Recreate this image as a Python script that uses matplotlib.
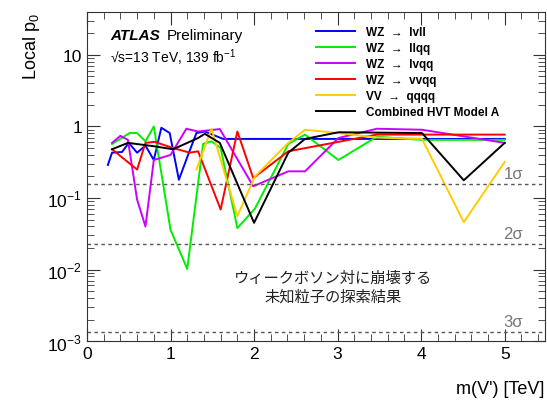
import matplotlib
matplotlib.use("Agg")
import matplotlib.pyplot as plt
from matplotlib.ticker import MultipleLocator, LogLocator, NullFormatter, FuncFormatter
import numpy as np

# ---- data ----
lvll_m = [0.25, 0.30, 0.42, 0.50, 0.60, 0.70, 0.80, 0.89, 0.99, 1.10, 1.21, 1.31, 1.41, 1.63, 2.0, 3.0, 4.0, 5.0]
lvll_p = [0.29, 0.43, 0.44, 0.59, 0.43, 0.54, 0.34, 0.96, 0.81, 0.18, 0.40, 0.81, 0.85, 0.67, 0.67, 0.67, 0.67, 0.67]

llqq_m = [0.30, 0.51, 0.60, 0.70, 0.80, 1.00, 1.20, 1.39, 1.49, 1.60, 1.80, 2.01, 2.41, 2.61, 3.01, 3.47, 4.0, 5.0]
llqq_p = [0.57, 0.81, 0.81, 0.62, 1.00, 0.036, 0.0102, 0.57, 0.62, 0.50, 0.038, 0.071, 0.57, 0.77, 0.34, 0.72, 0.65, 0.65]

lvqq_m = [0.30, 0.40, 0.49, 0.60, 0.70, 0.80, 1.00, 1.19, 1.33, 1.59, 1.99, 2.41, 2.61, 3.01, 3.47, 4.01, 5.0]
lvqq_p = [0.59, 0.74, 0.65, 0.095, 0.040, 0.34, 0.40, 0.93, 0.85, 0.92, 0.146, 0.236, 0.236, 0.69, 0.93, 0.90, 0.59]

vvqq_m = [0.30, 0.60, 0.70, 0.81, 1.03, 1.23, 1.33, 1.60, 1.80, 1.99, 2.41, 3.47, 4.0, 5.0]
vvqq_p = [0.48, 0.25, 0.59, 0.61, 0.50, 0.43, 0.45, 0.069, 0.85, 0.19, 0.45, 0.77, 0.77, 0.77]

qqqq_m = [1.31, 1.49, 1.80, 2.01, 2.41, 2.61, 3.01, 3.47, 4.01, 4.51, 5.0]
qqqq_p = [0.25, 0.93, 0.056, 0.20, 0.59, 0.90, 0.81, 0.70, 0.67, 0.046, 0.32]

comb_m = [0.30, 0.49, 0.80, 1.03, 1.33, 1.41, 1.59, 2.00, 2.41, 2.61, 3.01, 4.01, 4.51, 5.0]
comb_p = [0.48, 0.59, 0.53, 0.48, 0.69, 0.79, 0.59, 0.045, 0.43, 0.67, 0.83, 0.81, 0.177, 0.59]

labels = ["WZ  →  lvll", "WZ  →  llqq", "WZ  →  lvqq",
          "WZ  →  vvqq", "VV  →  qqqq", "Combined HVT Model A"]
colors = ["#0000ff", "#00ee00", "#cc00ff", "#ff0000", "#ffcc00", "#000000"]

sigma_p = [0.1587, 0.02275, 0.00135]
sigma_labels = ["1σ", "2σ", "3σ"]

plt.rcParams['font.family'] = ['Liberation Sans', 'DejaVu Sans']
plt.rcParams['mathtext.fontset'] = 'custom'
plt.rcParams['mathtext.rm'] = 'Liberation Sans'
plt.rcParams['mathtext.bf'] = 'Liberation Sans:bold'

fig = plt.figure(figsize=(5.47, 4.02), dpi=100)
ax = fig.add_axes([0.159, 0.149, 0.837, 0.819])

series = [(lvll_m, lvll_p), (llqq_m, llqq_p), (lvqq_m, lvqq_p), (vvqq_m, vvqq_p), (qqqq_m, qqqq_p), (comb_m, comb_p)]
for (m, p), lab, c in zip(series, labels, colors):
    ax.plot(m, p, color=c, lw=1.4, label=lab)

for sp, sl in zip(sigma_p, sigma_labels):
    ax.axhline(sp, color="#555555", ls=(0, (2.5, 2.5)), lw=1.0)
    ax.text(5.1, sp * 1.1, sl, color="#777777", fontsize=12, ha="center", va="bottom")

ax.set_yscale("log")
ax.set_xlim(0, 5.48)
ax.set_ylim(1e-3, 40)
ax.xaxis.set_major_locator(MultipleLocator(1))
ax.xaxis.set_minor_locator(MultipleLocator(0.2))
ax.yaxis.set_major_locator(LogLocator(base=10, numticks=10))
ax.yaxis.set_minor_locator(LogLocator(base=10, subs=np.arange(2, 10), numticks=10))
ax.yaxis.set_minor_formatter(NullFormatter())

def yfmt(v, pos):
    e = int(round(np.log10(v)))
    if e == 0:
        return "1"
    if e == 1:
        return "10"
    return "$10^{%d}$" % e
ax.yaxis.set_major_formatter(FuncFormatter(yfmt))

ax.tick_params(which="both", direction="in", top=True, right=True, labelsize=12.5, color="#333333")
ax.tick_params(which="major", length=9)
ax.tick_params(which="minor", length=5)
for s in ax.spines.values():
    s.set_color("#333333")

ax.set_ylabel("Local p$_0$", fontsize=13, loc="top")
ax.set_xlabel("m(V') [TeV]", fontsize=13, loc="right", labelpad=14)

ax.text(0.05, 0.93, "ATLAS", transform=ax.transAxes, fontsize=11, fontweight="bold", style="italic", va="center")
ax.text(0.175, 0.93, "Preliminary", transform=ax.transAxes, fontsize=11, va="center")
ax.text(0.05, 0.865, "√s=13 TeV, 139 fb$^{-1}$", transform=ax.transAxes, fontsize=10, va="center")

leg = ax.legend(loc="upper left", bbox_to_anchor=(0.49, 0.972), frameon=False,
                prop={"weight": "bold", "size": 8.5}, handlelength=3.3, handletextpad=0.9,
                labelspacing=0.35, borderaxespad=0)

ax.text(0.537, 0.165, "ウィークボソン対に崩壊する\n未知粒子の探索結果", transform=ax.transAxes,
        family=["Noto Sans CJK JP", "DejaVu Sans"], fontsize=11, ha="center", va="center",
        linespacing=1.15, color="#222222")

fig.savefig("out.png", dpi=100)
